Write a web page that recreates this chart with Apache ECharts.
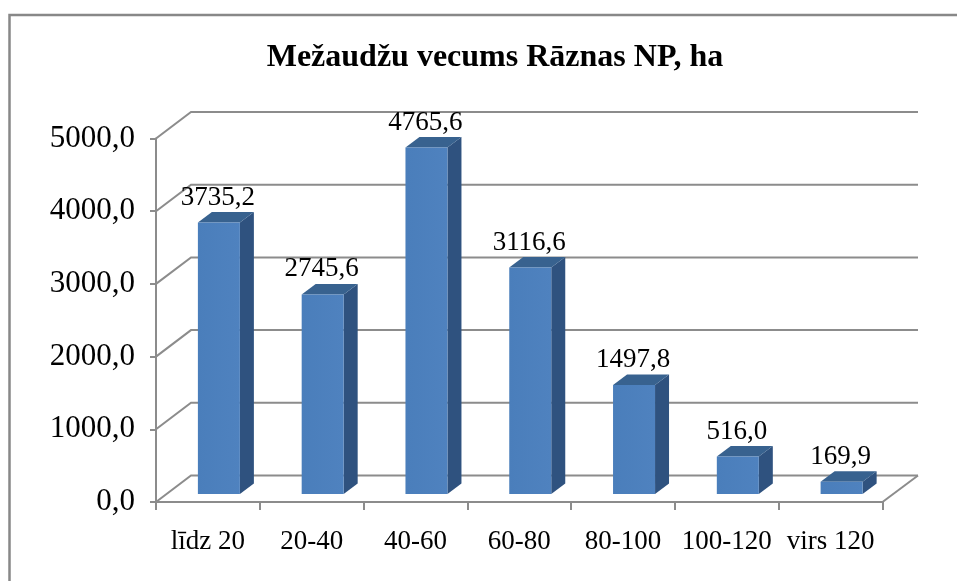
<!DOCTYPE html>
<html>
<head>
<meta charset="utf-8">
<title>Mežaudžu vecums</title>
<style>
html,body{margin:0;padding:0;background:#fff;}
#container_age{width:957px;height:581px;}
</style>
<script src="https://cdn.jsdelivr.net/npm/echarts@6/dist/echarts.min.js"></script>
</head>
<body>
<div id="container_age"></div>
<script>
var chartTitle = 'Mežaudžu vecums Rāznas NP, ha';
var categories = ['līdz 20', '20-40', '40-60', '60-80', '80-100', '100-120', 'virs 120'];
var areaValues = [3735.2, 2745.6, 4765.6, 3116.6, 1497.8, 516.0, 169.9];
var yTicks = [0, 1000, 2000, 3000, 4000, 5000];

var lineColor = '#8c8c8c';
var fontName = '"Liberation Serif","Times New Roman",serif';

function comma(v){
	return Number(v).toFixed(1).replace('.', ',');
}

var myChart = echarts.init(document.getElementById('container_age'), null, {renderer:'canvas'});

// back wall: each tick runs diagonally to the back, then along the wall
function renderWall(params, api){
	var v = api.value(0);
	var p = api.coord([0, v]);
	var rect = params.coordSys;
	var x0 = rect.x, x1 = rect.x + rect.width;
	var style = {stroke:lineColor, lineWidth:2, fill:null};
	var children = [
		{type:'polyline', shape:{points:[[x0, p[1]], [x0 + 35, p[1] - 26.5], [x1 + 35.5, p[1] - 26.5]]}, style:style}
	];
	if(v === 0){ //floor right edge
		children.push({type:'line', shape:{x1:x1, y1:p[1], x2:x1 + 35.5, y2:p[1] - 26.5}, style:style});
	}
	return {type:'group', children:children};
}

// fake 3d column
function renderBar(params, api){
	var idx = api.value(0);
	var val = api.value(1);
	var base = api.coord([idx, 0]);
	var top = api.coord([idx, val]);
	var cx = base[0] + 11;
	var w = 42, dx = 14, dy = 10.5, lift = 8;
	var l = cx - w / 2, r = cx + w / 2;
	var yb = base[1] - lift, yt = top[1] - lift;
	return {type:'group', children:[
		{type:'polygon', shape:{points:[[r, yb], [r + dx, yb - dy], [r + dx, yt - dy], [r, yt]]}, style:{fill:'#2f527f'}},
		{type:'polygon', shape:{points:[[l, yt], [l + dx, yt - dy], [r + dx, yt - dy], [r, yt]]}, style:{fill:'#38628f'}},
		{type:'rect', shape:{x:l, y:yt, width:w, height:yb - yt}, style:{
			fill:new echarts.graphic.LinearGradient(0, 0, 1, 0, [
				{offset:0, color:'#4a7ebb'}, {offset:1, color:'#4f82bf'}
			])
		}},
		{type:'text', x:cx - 1, y:yt - 25, style:{
			text:comma(val), fill:'#000', font:'27px ' + fontName, align:'center', verticalAlign:'middle'
		}}
	]};
}

var option = {
	animation:false,
	backgroundColor:'#fff',
	title:{
		text:chartTitle,
		left:490,
		top:37,
		textAlign:'center',
		textStyle:{color:'#000', fontFamily:fontName, fontWeight:'bold', fontSize:32}
	},
	grid:{left:156, right:74.5, top:138.5, height:363.5},
	xAxis:[{
		type:'category',
		data:categories,
		axisLine:{show:true, lineStyle:{color:lineColor, width:2}},
		axisTick:{show:true, length:8, lineStyle:{color:lineColor, width:2}},
		axisLabel:{color:'#000', fontFamily:fontName, fontSize:27, margin:26, interval:0},
		splitLine:{show:false}
	}],
	yAxis:[{
		type:'value',
		min:0,
		max:5000,
		interval:1000,
		axisLine:{show:true, lineStyle:{color:lineColor, width:2}},
		axisTick:{show:true, length:6, lineStyle:{color:lineColor, width:2}},
		axisLabel:{color:'#000', fontFamily:fontName, fontSize:31, margin:21, padding:[5, 0, 0, 0], formatter:comma},
		splitLine:{show:false}
	}],
	series:[
		{
			type:'custom',
			name:'wall',
			silent:true,
			z:1,
			clip:false,
			renderItem:renderWall,
			encode:{y:0},
			data:yTicks.map(function(t){return [t];})
		},
		{
			type:'custom',
			name:'ha',
			z:3,
			clip:false,
			renderItem:renderBar,
			encode:{x:0, y:1},
			data:areaValues.map(function(v, i){return [i, v];})
		}
	],
	graphic:[{
		type:'polyline',
		silent:true,
		z:0,
		shape:{points:[[9.5, 581], [9.5, 15], [957, 15]]},
		style:{stroke:'#888', lineWidth:2.5, fill:null}
	}]
};

myChart.setOption(option);
window.onresize = myChart.resize;
</script>
</body>
</html>
